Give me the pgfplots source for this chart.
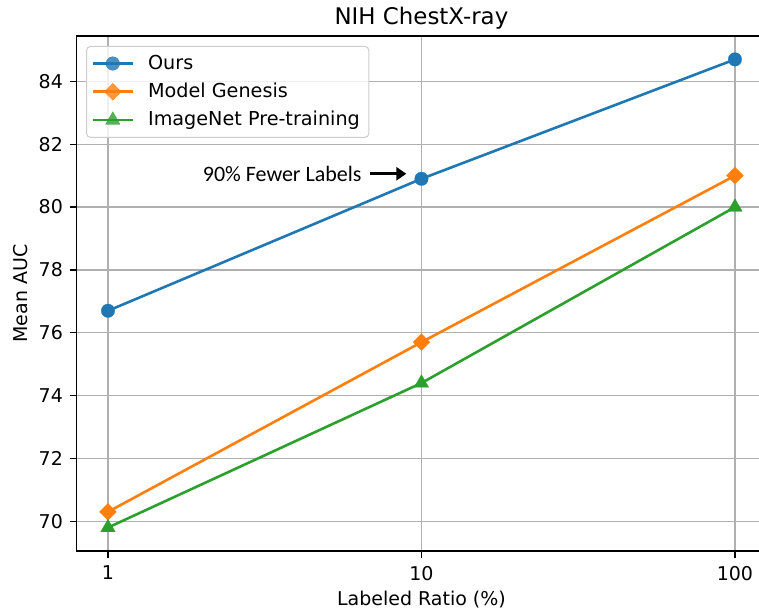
\documentclass[border=0pt]{standalone}
\usepackage{pgfplots}
\pgfplotsset{compat=1.18}
\usepackage{fontspec}
\setmainfont{DejaVu Sans}
\newfontfamily\annfont{Carlito}
\usetikzlibrary{arrows.meta}
\definecolor{c1}{HTML}{1F77B4}
\definecolor{c2}{HTML}{FF7F0E}
\definecolor{c3}{HTML}{2CA02C}
\definecolor{gridc}{HTML}{B0B0B0}
\definecolor{legc}{HTML}{CCCCCC}
\begin{document}
\begin{tikzpicture}
\begin{axis}[
  scale only axis,
  width=344.85pt, height=257.5pt,
  clip=false,
  xmode=log,
  xmin=0.794328, xmax=125.8925,
  ymin=69.055, ymax=85.445,
  xtick={1,10,100}, xticklabels={1,10,100},
  xminorticks=false,
  ytick={70,72,74,76,78,80,82,84},
  /pgf/number format/assume math mode=true,
  tick align=outside,
  tick pos=left,
  major tick length=3.5pt,
  tick style={black, line width=0.6pt},
  axis line style={black, line width=0.6pt},
  grid=major,
  major grid style={gridc, line width=0.6pt},
  tick label style={font=\fontsize{9.5}{11}\selectfont},
  yticklabel style={anchor=east, inner sep=0pt, xshift=-3.2pt},
  xticklabel style={anchor=north, inner sep=0pt, yshift=-3.8pt},
  xlabel={Labeled Ratio (\%)},
  ylabel={Mean AUC},
  label style={font=\fontsize{9.5}{11}\selectfont},
  xlabel style={at={(axis description cs:0.5,0)}, anchor=base, yshift=-27.5pt, inner sep=0pt},
  ylabel style={at={([xshift=-24.3pt]axis description cs:0,0.5)}, anchor=base, inner sep=0pt},
  legend cell align=left,
  legend style={
    at={(axis description cs:0,1)}, anchor=north west,
    xshift=4.7pt, yshift=-5pt,
    draw=legc, rounded corners=2pt, line width=0.5pt,
    fill=white, fill opacity=0.8, text opacity=1,
    font=\fontsize{9.6}{11}\selectfont,
    inner xsep=2.5pt, inner ysep=2.2pt,
    row sep=1.4pt,
    nodes={inner sep=2pt},
  },
  legend image code/.code={
    \draw[mark repeat=2, mark phase=2] plot coordinates {(0pt,0pt) (10pt,0pt) (20pt,0pt)};
    \path (25pt,0pt);
  },
]
\coordinate (sw) at (rel axis cs:0,0);
\addplot[c1, line width=1.3pt, mark=*, mark size=3.4pt, mark options={solid, fill=c1, draw=c1, line width=0.1pt}]
  coordinates {(1,76.7) (10,80.9) (100,84.7)};
\addlegendentry{Ours}
\addplot[c2, line width=1.3pt, mark=square*, mark size=3.0pt, mark options={solid, fill=c2, draw=c2, line width=0.1pt, rotate=45}]
  coordinates {(1,70.3) (10,75.7) (100,81.0)};
\addlegendentry{Model Genesis}
\addplot[c3, line width=1.3pt, mark=triangle*, mark size=4.2pt, mark options={solid, fill=c3, draw=c3, line width=0.1pt}]
  coordinates {(1,69.8) (10,74.4) (100,80.0)};
\addlegendentry{ImageNet Pre-training}
\node[anchor=base, inner sep=0pt, font=\fontsize{11.45}{13}\selectfont] at (rel axis cs:0.5,1) [yshift=5.5pt] {NIH ChestX-ray};
\draw[black, line width=1.4pt, -{Triangle[length=5pt, width=6.5pt]}] (axis cs:6.85,81.06) -- (axis cs:8.95,81.06);
\node[anchor=east, inner sep=0pt, font=\annfont\fontsize{11}{13}\selectfont] at (axis cs:6.46,81.06) {90\% Fewer Labels};
\end{axis}
\pgfresetboundingbox
\path[use as bounding box] ([shift={(-38.3pt,-31.5pt)}]sw) rectangle ([shift={(341.2pt,275.5pt)}]sw);
\end{tikzpicture}
\end{document}
